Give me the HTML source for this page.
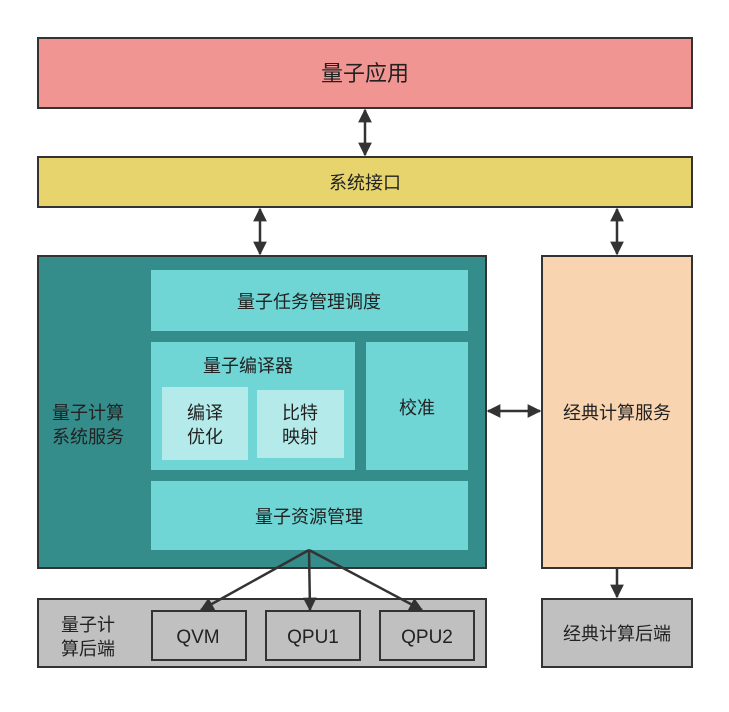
<!DOCTYPE html>
<html><head><meta charset="utf-8"><style>
html,body{margin:0;padding:0;background:#fff;}
svg text{font-family:"Liberation Sans","Noto Sans CJK SC",sans-serif;fill:#222;}
</style></head><body>
<svg width="729" height="707" viewBox="0 0 729 707" xmlns="http://www.w3.org/2000/svg">
<defs>
<marker id="a" viewBox="0 0 10 10" refX="9" refY="5" markerWidth="6" markerHeight="5.5" orient="auto-start-reverse"><path d="M0,0L10,5L0,10z" fill="#333"/></marker>
</defs>
<g stroke="#333" stroke-width="2">
<rect x="38" y="38" width="654" height="70" fill="#f19593"/>
<rect x="38" y="157" width="654" height="50" fill="#e7d46d"/>
<rect x="38" y="256" width="448" height="312" fill="#348c8b"/>
<rect x="542" y="256" width="150" height="312" fill="#f8d4b1"/>
<rect x="38" y="599" width="448" height="68" fill="#c0c0c0"/>
<rect x="542" y="599" width="150" height="68" fill="#c0c0c0"/>
<rect x="152" y="611" width="94" height="49" fill="#c0c0c0"/>
<rect x="266" y="611" width="94" height="49" fill="#c0c0c0"/>
<rect x="380" y="611" width="94" height="49" fill="#c0c0c0"/>
</g>
<g fill="#6fd5d5">
<rect x="151" y="270" width="317" height="61"/>
<rect x="151" y="342" width="204" height="128"/>
<rect x="366" y="342" width="102" height="128"/>
<rect x="151" y="481" width="317" height="69"/>
</g>
<g fill="#b5eaea">
<rect x="162" y="387" width="86" height="73"/>
<rect x="257" y="390" width="87" height="68"/>
</g>
<g stroke="#333" stroke-width="2.5" fill="none">
<line x1="365" y1="110" x2="365" y2="155" marker-start="url(#a)" marker-end="url(#a)"/>
<line x1="260" y1="209" x2="260" y2="254" marker-start="url(#a)" marker-end="url(#a)"/>
<line x1="617" y1="209" x2="617" y2="254" marker-start="url(#a)" marker-end="url(#a)"/>
<line x1="488" y1="411" x2="540" y2="411" marker-start="url(#a)" marker-end="url(#a)"/>
<line x1="617" y1="569" x2="617" y2="597" marker-end="url(#a)"/>
<line x1="309" y1="550" x2="201" y2="610" marker-end="url(#a)"/>
<line x1="309" y1="550" x2="310" y2="610" marker-end="url(#a)"/>
<line x1="309" y1="550" x2="422" y2="610" marker-end="url(#a)"/>
</g>
<g font-size="18" text-anchor="middle">
<text x="365" y="81" font-size="22">量子应用</text>
<text x="365" y="189">系统接口</text>
<text x="309" y="308">量子任务管理调度</text>
<text x="248" y="372">量子编译器</text>
<text x="205" y="419">编译</text>
<text x="205" y="443">优化</text>
<text x="300" y="419">比特</text>
<text x="300" y="443">映射</text>
<text x="417" y="414">校准</text>
<text x="309" y="523">量子资源管理</text>
<text x="88" y="419">量子计算</text>
<text x="88" y="443">系统服务</text>
<text x="617" y="419">经典计算服务</text>
<text x="617" y="640">经典计算后端</text>
<text x="88" y="631">量子计</text>
<text x="88" y="655">算后端</text>
<text x="198" y="643" font-size="19">QVM</text>
<text x="313" y="643" font-size="19">QPU1</text>
<text x="427" y="643" font-size="19">QPU2</text>
</g>
</svg>
</body></html>
